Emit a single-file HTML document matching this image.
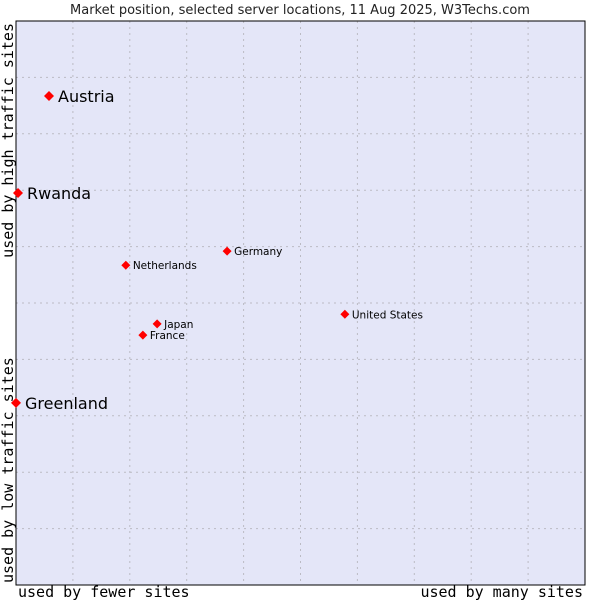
<!DOCTYPE html>
<html><head><meta charset="utf-8"><style>
body{margin:0;background:#fff;width:600px;height:600px;overflow:hidden}
svg{display:block}
</style></head><body>
<svg id="c" width="600" height="600">
<rect x="0" y="0" width="600" height="600" fill="#fff"/>
<text x="300" y="14" text-anchor="middle" font-family="DejaVu Sans, sans-serif" font-size="13" fill="#222">Market position, selected server locations, 11 Aug 2025, W3Techs.com</text>
<rect x="16" y="21" width="569" height="564" fill="#e4e6f8"/>
<g id="grid"></g>
<rect x="16" y="21" width="569" height="564" fill="none" stroke="#000" stroke-width="1"/>
<g id="pts"></g>
<text x="18" y="597" font-family="DejaVu Sans Mono, monospace" font-size="15" fill="#000">used by fewer sites</text>
<text x="583" y="597" text-anchor="end" font-family="DejaVu Sans Mono, monospace" font-size="15" fill="#000">used by many sites</text>
<text transform="translate(13,583) rotate(-90)" font-family="DejaVu Sans Mono, monospace" font-size="15" fill="#000">used by low traffic sites</text>
<text transform="translate(13,23) rotate(-90)" text-anchor="end" font-family="DejaVu Sans Mono, monospace" font-size="15" fill="#000">used by high traffic sites</text>
</svg>
<script>
const names=["Austria","Rwanda","Greenland","Germany","Netherlands","United States","Japan","France"];
const xVals=[5.8,0.35,0,37.1,19.3,57.8,24.8,22.3];
const yVals=[86.7,69.5,32.3,59.2,56.7,48.0,46.3,44.3];
const big=[true,true,true,false,false,false,false,false];
const L=16,R=585,T=21,B=585;
const sx=v=>L+v/100*(R-L), sy=v=>B-v/100*(B-T);
const NS="http://www.w3.org/2000/svg";
const g=document.getElementById('grid');
for(let i=1;i<10;i++){
 const v=document.createElementNS(NS,'line');
 v.setAttribute('x1',sx(i*10));v.setAttribute('x2',sx(i*10));v.setAttribute('y1',T);v.setAttribute('y2',B);
 v.setAttribute('stroke','#bbbbc4');v.setAttribute('stroke-dasharray','2,4');
 
 
 g.appendChild(v);
 const h=document.createElementNS(NS,'line');
 h.setAttribute('y1',sy(i*10));h.setAttribute('y2',sy(i*10));h.setAttribute('x1',L);h.setAttribute('x2',R);
 h.setAttribute('stroke','#bbbbc4');h.setAttribute('stroke-dasharray','2,4');
 
 
 g.appendChild(h);
}
const p=document.getElementById('pts');
names.forEach((n,i)=>{
 const x=sx(xVals[i]),y=sy(yVals[i]);
 const d=document.createElementNS(NS,'path');
 const r=big[i]?5:4.5;
 d.setAttribute('d',`M${x-r},${y} L${x},${y-r} L${x+r},${y} L${x},${y+r} Z`);
 d.setAttribute('fill','#f00');
 
 
 p.appendChild(d);
 const t=document.createElementNS(NS,'text');
 t.setAttribute('x',x+(big[i]?9:7));t.setAttribute('y',y+(big[i]?6:4));
 t.setAttribute('font-family','DejaVu Sans, sans-serif');
 t.setAttribute('font-size',big[i]?16:10.5);
 t.setAttribute('fill','#000');
 t.textContent=n;
 
 
 p.appendChild(t);
});
</script>
</body></html>
